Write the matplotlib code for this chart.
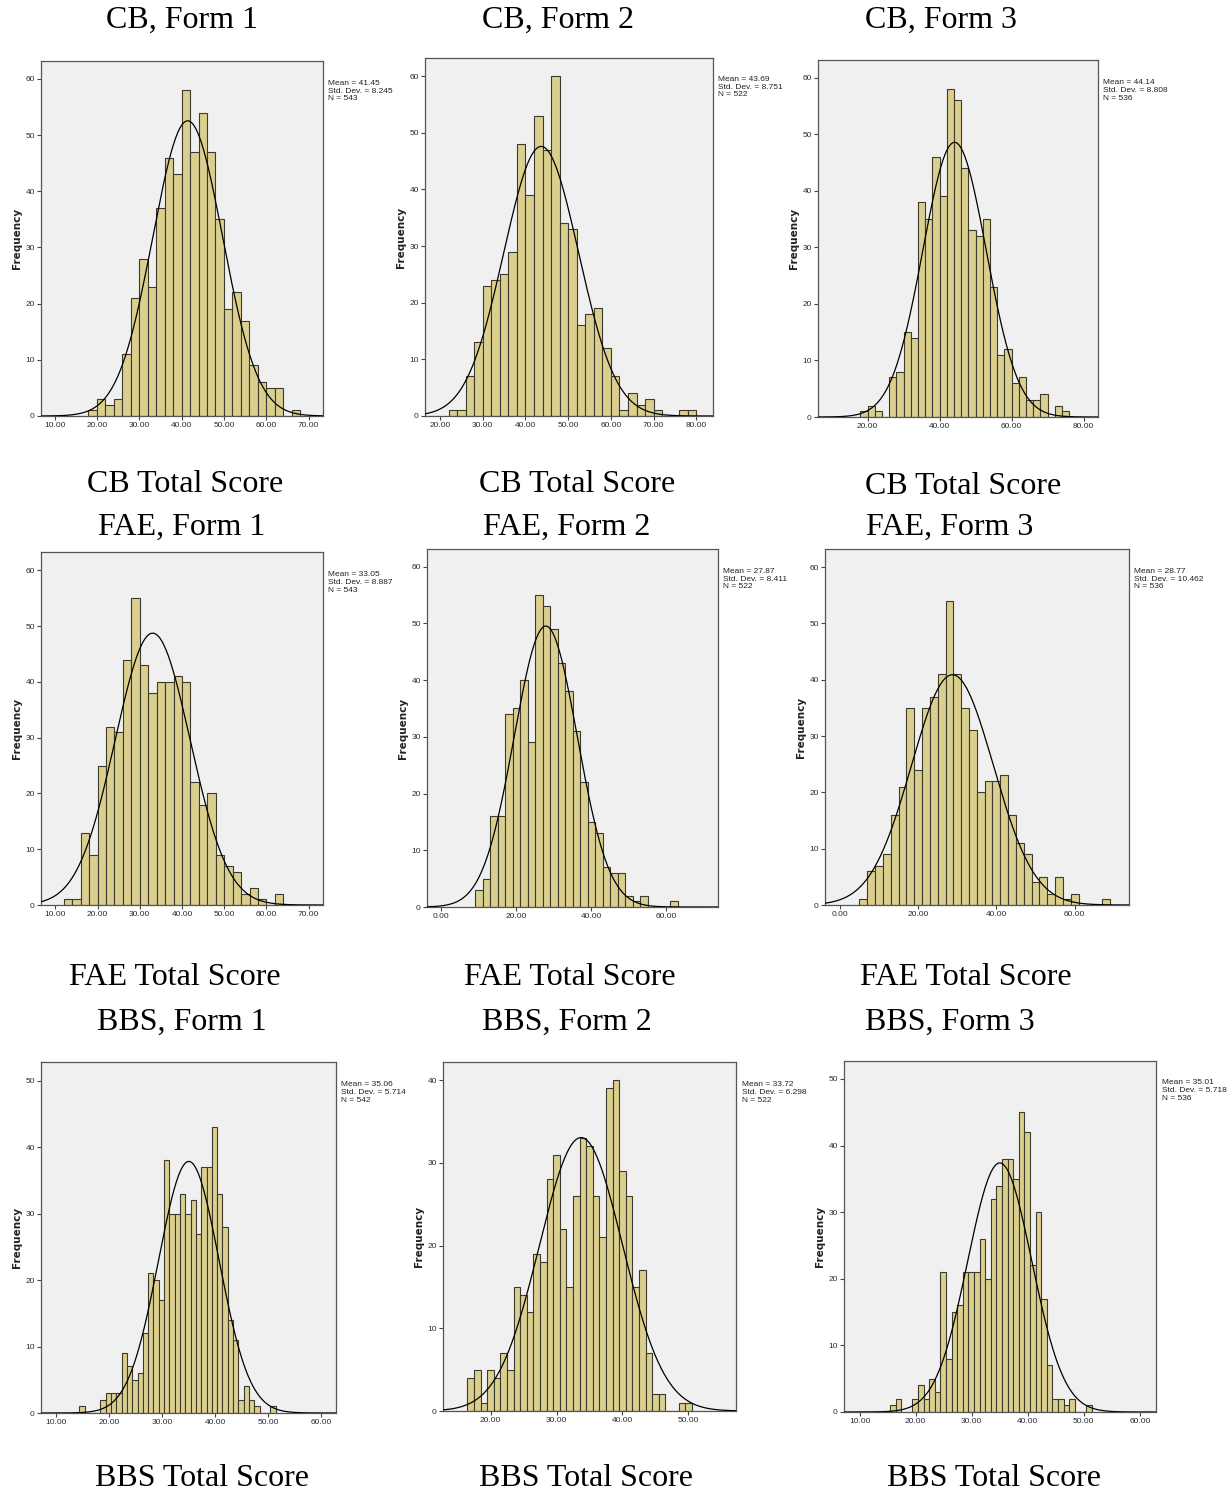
import numpy as np
import matplotlib.pyplot as plt

W, H = 1230, 1498

# histogram counts, first bin edge and bin width for each panel
cb1_counts = [1, 3, 2, 3, 11, 21, 28, 23, 37, 46, 43, 58, 47, 54, 47, 35, 19, 22, 17, 9, 6, 5, 5, 0, 1]
cb1_start, cb1_width = 18, 2
cb2_counts = [1, 1, 7, 13, 23, 24, 25, 29, 48, 39, 53, 47, 60, 34, 33, 16, 18, 19, 12, 7, 1, 4, 2, 3, 1, 0, 0, 1, 1]
cb2_start, cb2_width = 22, 2
cb3_counts = [1, 2, 1, 0, 7, 8, 15, 14, 38, 35, 46, 39, 58, 56, 44, 33, 32, 35, 23, 11, 12, 6, 7, 3, 3, 4, 0, 2, 1]
cb3_start, cb3_width = 18, 2

fae1_counts = [1, 1, 13, 9, 25, 32, 31, 44, 55, 43, 38, 40, 40, 41, 40, 22, 18, 20, 9, 7, 6, 2, 3, 1, 0, 2]
fae1_start, fae1_width = 12, 2
fae2_counts = [3, 5, 16, 16, 34, 35, 40, 29, 55, 53, 49, 43, 38, 31, 22, 15, 13, 7, 6, 6, 2, 1, 2, 0, 0, 0, 1]
fae2_start, fae2_width = 9, 2
fae3_counts = [1, 6, 7, 9, 16, 21, 35, 24, 35, 37, 41, 54, 41, 35, 31, 20, 22, 22, 23, 16, 11, 9, 4, 5, 2, 5, 1, 2, 0, 0, 0, 1]
fae3_start, fae3_width = 5, 2

bbs1_counts = [1, 0, 0, 0, 2, 3, 3, 3, 9, 7, 5, 6, 12, 21, 20, 17, 38, 30, 30, 33, 30, 32, 27, 37, 37, 43, 33, 28,
               14, 11, 2, 4, 2, 1, 0, 0, 1]
bbs1_start, bbs1_width = 14.4, 1
bbs2_counts = [4, 5, 1, 5, 4, 7, 5, 15, 14, 12, 19, 18, 28, 31, 22, 15, 26, 33, 32, 26, 21, 39, 40, 29, 26, 15, 17,
               7, 2, 2, 0, 0, 1, 1]
bbs2_start, bbs2_width = 16.5, 1
bbs3_counts = [1, 2, 0, 0, 2, 4, 2, 5, 3, 21, 8, 15, 16, 21, 21, 21, 26, 20, 32, 34, 38, 38, 35, 45, 42, 22, 30, 17,
               7, 2, 2, 1, 2, 0, 0, 1]
bbs3_start, bbs3_width = 15.4, 1

means = [41.45, 43.69, 44.14, 33.05, 27.87, 28.77, 35.06, 33.72, 35.01]
sds = [8.245, 8.751, 8.808, 8.887, 8.411, 10.462, 5.714, 6.298, 5.718]
ns = [543, 522, 536, 543, 522, 536, 542, 522, 536]

titles = ['CB, Form 1', 'CB, Form 2', 'CB, Form 3',
          'FAE, Form 1', 'FAE, Form 2', 'FAE, Form 3',
          'BBS, Form 1', 'BBS, Form 2', 'BBS, Form 3']
xlabels = ['CB Total Score'] * 3 + ['FAE Total Score'] * 3 + ['BBS Total Score'] * 3

xlims = [(6.8, 73.4), (16.5, 83.9), (6.2, 84.0),
         (6.6, 73.4), (-3.8, 73.8), (-3.8, 73.9),
         (7.2, 62.8), (12.8, 57.2), (7.2, 62.9)]
ylims = [63.2, 63.2, 63.1, 63.3, 63.1, 63.2, 52.8, 42.2, 52.7]
xticks = [np.arange(10, 71, 10), np.arange(20, 81, 10), np.arange(20, 81, 20),
          np.arange(10, 71, 10), np.arange(0, 61, 20), np.arange(0, 61, 20),
          np.arange(10, 61, 10), np.arange(20, 51, 10), np.arange(10, 61, 10)]
yticks = [np.arange(0, 61, 10)] * 6 + [np.arange(0, 51, 10), np.arange(0, 41, 10), np.arange(0, 51, 10)]

hist = [(cb1_counts, cb1_start, cb1_width), (cb2_counts, cb2_start, cb2_width), (cb3_counts, cb3_start, cb3_width),
        (fae1_counts, fae1_start, fae1_width), (fae2_counts, fae2_start, fae2_width),
        (fae3_counts, fae3_start, fae3_width),
        (bbs1_counts, bbs1_start, bbs1_width), (bbs2_counts, bbs2_start, bbs2_width),
        (bbs3_counts, bbs3_start, bbs3_width)]

# axes boxes in pixels: left, top, right, bottom
boxes = [(41, 61, 323, 416), (425, 58, 713, 416), (818, 60, 1098, 417),
         (41, 552, 323, 905), (427, 549, 718, 907), (825, 549, 1129, 905),
         (41, 1062, 336, 1413), (443, 1062, 736, 1411), (844, 1061, 1156, 1412)]
# title, xlabel and stats text positions (pixels)
title_pos = [(182, 20), (558, 20), (941, 20), (182, 527), (567, 527), (950, 527),
             (182, 1022), (567, 1022), (950, 1022)]
xlab_pos = [(185, 485), (577, 485), (963, 486), (175, 977), (570, 977), (966, 977),
            (202, 1479), (586, 1479), (994, 1479)]
stat_pos = [(328, 80), (718, 76), (1103, 79), (328, 571), (723, 568), (1134, 568),
            (341, 1081), (742, 1081), (1162, 1079)]

bar_color = '#dbcf8f'
edge_color = '#3c3a2c'
narrow = ['Liberation Sans Narrow', 'Liberation Sans', 'DejaVu Sans']

fig = plt.figure(figsize=(W / 100, H / 100), dpi=100)

for i in range(9):
    l, t, r, b = boxes[i]
    ax = fig.add_axes([l / W, 1 - b / H, (r - l) / W, (b - t) / H])
    ax.set_facecolor('#f0f0f0')
    counts, start, w = hist[i]
    edges = start + w * np.arange(len(counts))
    ax.bar(edges, counts, width=w, align='edge', color=bar_color,
           edgecolor=edge_color, linewidth=0.8, zorder=2)
    xs = np.linspace(xlims[i][0], xlims[i][1], 400)
    ys = ns[i] * w * np.exp(-0.5 * ((xs - means[i]) / sds[i]) ** 2) / (sds[i] * np.sqrt(2 * np.pi))
    ax.plot(xs, ys, color='black', linewidth=0.9, zorder=3)
    ax.set_xlim(*xlims[i])
    ax.set_ylim(0, ylims[i])
    ax.set_xticks(xticks[i])
    ax.set_xticklabels(['%.2f' % v for v in xticks[i]])
    ax.set_yticks(yticks[i])
    ax.set_yticklabels([str(v) for v in yticks[i]])
    ax.tick_params(direction='out', length=3, width=0.8, colors='#444444', labelsize=6, pad=1.5)
    for lab in ax.get_xticklabels() + ax.get_yticklabels():
        lab.set_family(narrow)
        lab.set_color('#2a2a3a')
    for sp in ax.spines.values():
        sp.set_color('#555555')
        sp.set_linewidth(0.9)

    fig.text((l - 24) / W, 1 - (t + b) / 2 / H, 'Frequency', rotation=90, ha='center', va='center',
             fontsize=7.5, fontweight='bold', family='DejaVu Sans', color='#222222')
    sx, sy = stat_pos[i]
    fig.text(sx / W, 1 - sy / H,
             'Mean = %.2f\nStd. Dev. = %s\nN = %d' % (means[i], ('%.3f' % sds[i]), ns[i]),
             ha='left', va='top', fontsize=6, family=narrow, linespacing=1.15, color='#222222')
    tx, ty = title_pos[i]
    fig.text(tx / W, 1 - ty / H, titles[i], ha='center', va='center', fontsize=23, family='Liberation Serif')
    lx, ly = xlab_pos[i]
    fig.text(lx / W, 1 - ly / H, xlabels[i], ha='center', va='center', fontsize=23, family='Liberation Serif')

fig.savefig('out.png', dpi=100, facecolor='white')
